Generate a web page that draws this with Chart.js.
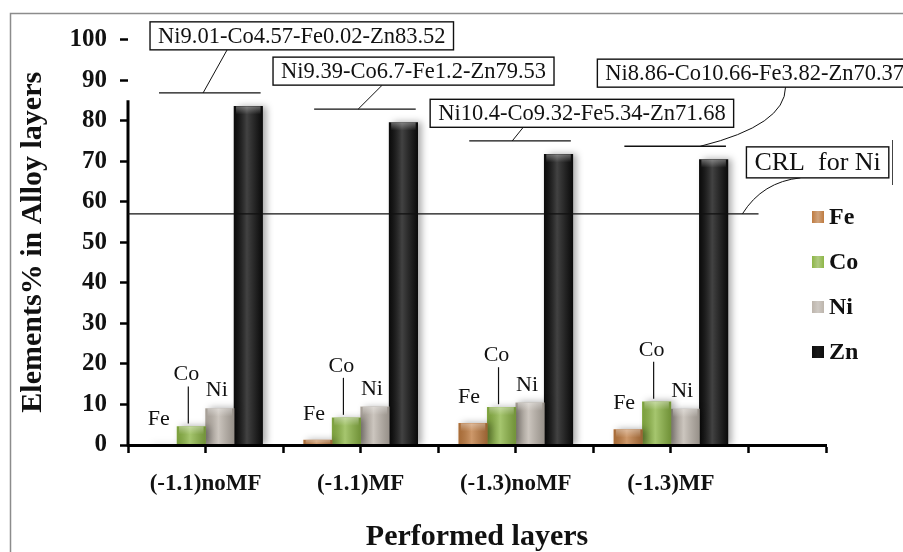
<!DOCTYPE html>
<html>
<head>
<meta charset="utf-8">
<script src="https://cdn.jsdelivr.net/npm/chart.js@4.4.1/dist/chart.umd.min.js"></script>
<style>
  html, body { margin: 0; padding: 0; background: #fff; }
</style>
</head>
<body>
<canvas id="chart" width="903" height="552"></canvas>
<script>
// Données
const categories = ['(-1.1)noMF', '(-1.1)MF', '(-1.3)noMF', '(-1.3)MF'];
const elements = ['Fe', 'Co', 'Ni', 'Zn'];
const feValues = [0.02, 1.2, 5.34, 3.82];
const coValues = [4.57, 6.7, 9.32, 10.66];
const niValues = [9.01, 9.39, 10.4, 8.86];
const znValues = [83.52, 79.53, 71.68, 70.37];
const crlNi = 57;
const yMin = 0, yMax = 100, yStep = 10;

const serif = '"Liberation Serif", "Times New Roman", serif';
const fillColors = ['#bf7b40', '#8db646', '#bdb5ac', '#0d0d0d'];
const seriesValues = [feValues, coValues, niValues, znValues];

// Boîtes de composition (x = bord gauche en unités de catégorie, y = centre en %)
const compositionBoxes = [
    { x: 0.642, y: 100.9, from: -0.016, to: 1.139 },
    { x: 1.435, y: 92.2, from: -0.016, to: 2.139 },
    { x: 2.448, y: 81.8, from: -0.023, to: 3.048 },
    { x: 3.526, y: 91.7, from: 0.19, to: 4.739, ctrl: { x: 4.739, y: 78.9 } }
];
const crlBox = { x: 4.487, y: 69.7, lineEnd: 4.565, from: 4.461, to: 4.835, ctrl: { x: 4.59, y: 64.9 } };

const compositionText = i =>
    `Ni${niValues[i]}-Co${coValues[i]}-Fe${feValues[i]}-Zn${znValues[i]}`;

const framePlugin = {
    id: 'frame',
    beforeDraw(chart) {
        const c = chart.ctx;
        c.save();
        c.fillStyle = '#fff';
        c.fillRect(0, 0, chart.width, chart.height);
        c.strokeStyle = '#8c8c8c';
        c.lineWidth = 1.5;
        c.beginPath();
        c.moveTo(10.5, chart.height);
        c.lineTo(10.5, 13.5);
        c.lineTo(chart.width, 13.5);
        c.stroke();
        c.restore();
    }
};

const shadingPlugin = {
    id: 'shading',
    beforeDatasetsDraw(chart) {
        const c = chart.ctx;
        c.save();
        c.shadowColor = 'rgba(0,0,0,0.35)';
        c.shadowBlur = 7;
        c.shadowOffsetX = 4;
    },
    afterDatasetsDraw(chart) {
        const c = chart.ctx;
        c.restore();
        c.save();
        chart.data.datasets.forEach((ds, d) => {
            chart.getDatasetMeta(d).data.forEach(bar => {
                const left = bar.x - bar.width / 2;
                const w = bar.width;
                const h = bar.base - bar.y;
                if (h <= 0.5) return;
                const g = c.createLinearGradient(left, 0, left + w, 0);
                g.addColorStop(0, 'rgba(0,0,0,0.12)');
                g.addColorStop(0.45, 'rgba(255,255,255,0.22)');
                g.addColorStop(1, 'rgba(0,0,0,0.2)');
                c.fillStyle = g;
                c.fillRect(left, bar.y, w, h);
                const capH = Math.min(8, h);
                const g2 = c.createLinearGradient(0, bar.y, 0, bar.y + capH);
                g2.addColorStop(0, 'rgba(255,255,255,0.35)');
                g2.addColorStop(1, 'rgba(255,255,255,0)');
                c.fillStyle = g2;
                c.fillRect(left + 2, bar.y, w - 4, capH);
            });
        });
        c.restore();
    }
};

function drawBox(c, left, cy, text, size, h) {
    c.font = `${size}px ${serif}`;
    const w = c.measureText(text).width + 16;
    c.fillStyle = '#fff';
    c.fillRect(left, cy - h / 2, w, h);
    c.strokeStyle = '#111';
    c.lineWidth = 1.4;
    c.strokeRect(left, cy - h / 2, w, h);
    c.fillStyle = '#111';
    c.textAlign = 'left';
    c.textBaseline = 'middle';
    c.fillText(text, left + 8, cy + 1);
}

const annotationPlugin = {
    id: 'annotations',
    afterDraw(chart) {
        const c = chart.ctx;
        const xs = chart.scales.x, ys = chart.scales.y;
        const px = v => xs.getPixelForValue(v);
        const py = v => ys.getPixelForValue(v);
        c.save();

        // axe Y (interrompu en haut comme sur la figure)
        c.strokeStyle = '#000';
        c.lineWidth = 3;
        c.beginPath();
        c.moveTo(chart.chartArea.left, py(85));
        c.lineTo(chart.chartArea.left, py(0) + 1.5);
        c.stroke();

        // ligne CRL pour Ni
        c.lineWidth = 1.3;
        c.strokeStyle = '#111';
        c.beginPath();
        c.moveTo(px(0.5), py(crlNi));
        c.lineTo(px(crlBox.lineEnd), py(crlNi));
        c.stroke();

        // étiquettes Fe / Co / Ni au-dessus des barres
        c.font = `22px ${serif}`;
        c.fillStyle = '#111';
        c.textAlign = 'center';
        c.textBaseline = 'middle';
        categories.forEach((cat, i) => {
            const fe = chart.getDatasetMeta(0).data[i];
            const co = chart.getDatasetMeta(1).data[i];
            const ni = chart.getDatasetMeta(2).data[i];
            c.fillText('Fe', fe.x - 4, fe.y - 26);
            c.fillText('Co', co.x - 5, co.y - 52);
            c.fillText('Ni', ni.x - 3, ni.y - 18);
            c.lineWidth = 1.2;
            c.beginPath();
            c.moveTo(co.x - 3, co.y - 40);
            c.lineTo(co.x - 3, co.y - 3);
            c.stroke();
        });

        // lignes de rappel et boîtes de composition
        compositionBoxes.forEach((b, i) => {
            const lineY = py(znValues[i] + 3.3);
            c.lineWidth = 1.3;
            c.beginPath();
            c.moveTo(px(i + 1 - 0.30), lineY);
            c.lineTo(px(i + 1 + 0.355), lineY);
            c.stroke();
            const bottom = py(b.y) + 14;
            c.lineWidth = 1;
            c.beginPath();
            c.moveTo(px(i + 1 + b.from), lineY);
            if (b.ctrl) {
                c.quadraticCurveTo(px(b.ctrl.x), py(b.ctrl.y), px(b.to), bottom);
            } else {
                c.lineTo(px(b.to), bottom);
            }
            c.stroke();
        });
        compositionBoxes.forEach((b, i) => drawBox(c, px(b.x), py(b.y), compositionText(i), 22.5, 28));

        // boîte CRL
        c.lineWidth = 1;
        c.beginPath();
        c.moveTo(px(crlBox.from), py(crlNi));
        c.quadraticCurveTo(px(crlBox.ctrl.x), py(crlBox.ctrl.y), px(crlBox.to), py(crlBox.y) + 15.5);
        c.stroke();
        drawBox(c, px(crlBox.x), py(crlBox.y), 'CRL\u00a0 for Ni', 26, 31);
        c.strokeStyle = '#444';
        c.lineWidth = 1;
        c.beginPath();
        c.moveTo(892.5, 140);
        c.lineTo(892.5, 185);
        c.stroke();

        // légende
        c.font = `bold 24px ${serif}`;
        c.textAlign = 'left';
        elements.forEach((el, d) => {
            const cy = 217 + d * 45;
            const g = c.createLinearGradient(812, 0, 824, 0);
            g.addColorStop(0, fillColors[d]);
            g.addColorStop(0.5, d === 3 ? '#333' : '#eee');
            g.addColorStop(1, fillColors[d]);
            c.fillStyle = fillColors[d];
            c.fillRect(812, cy - 6, 12, 12);
            c.globalAlpha = 0.35;
            c.fillStyle = g;
            c.fillRect(812, cy - 6, 12, 12);
            c.globalAlpha = 1;
            c.fillStyle = '#111';
            c.fillText(el, 829, cy + 1);
        });
        c.restore();
    }
};

const ctx = document.getElementById('chart').getContext('2d');
new Chart(ctx, {
    type: 'bar',
    data: {
        datasets: elements.map((el, d) => ({
            label: el,
            data: categories.map((cat, i) => ({ x: i + 1, y: seriesValues[d][i] })),
            backgroundColor: fillColors[d],
            borderWidth: 0,
            barThickness: 28.5
        }))
    },
    options: {
        responsive: false,
        animation: false,
        layout: { padding: { top: 39.5, right: 77, left: 0, bottom: 0 } },
        plugins: {
            legend: { display: false },
            tooltip: { enabled: false }
        },
        scales: {
            x: {
                type: 'linear',
                min: 0.5,
                max: 5,
                offset: false,
                afterFit: s => { s.height = 107; },
                grid: { display: true, offset: false, drawOnChartArea: false, drawTicks: true, tickLength: 8, tickWidth: 2.5, tickColor: '#000' },
                border: { display: true, color: '#000', width: 3, z: 1 },
                ticks: {
                    stepSize: 0.5,
                    autoSkip: false,
                    maxRotation: 0,
                    padding: 17,
                    color: '#111',
                    font: { family: serif, size: 23, weight: 'bold' },
                    callback: v => {
                        const k = Math.round(v);
                        return Math.abs(v - k) < 1e-6 && k >= 1 && k <= categories.length ? categories[k - 1] : '';
                    }
                },
                title: {
                    display: true,
                    text: 'Performed layers',
                    color: '#111',
                    font: { family: serif, size: 30, weight: 'bold', lineHeight: 1 },
                    padding: { top: 0, bottom: 0 }
                }
            },
            y: {
                min: yMin,
                max: yMax,
                afterFit: s => { s.width = 128; },
                grid: { display: true, drawOnChartArea: false, drawTicks: true, tickLength: 8, tickWidth: 2.5, tickColor: '#000' },
                border: { display: false },
                ticks: {
                    stepSize: yStep,
                    padding: 13,
                    color: '#111',
                    font: { family: serif, size: 25, weight: 'bold' }
                },
                title: {
                    display: true,
                    text: 'Elements% in Alloy layers',
                    color: '#111',
                    font: { family: serif, size: 30, weight: 'bold', lineHeight: 1 },
                    padding: { top: 18.5, bottom: 0 }
                }
            }
        }
    },
    plugins: [framePlugin, shadingPlugin, annotationPlugin]
});
</script>
</body>
</html>
